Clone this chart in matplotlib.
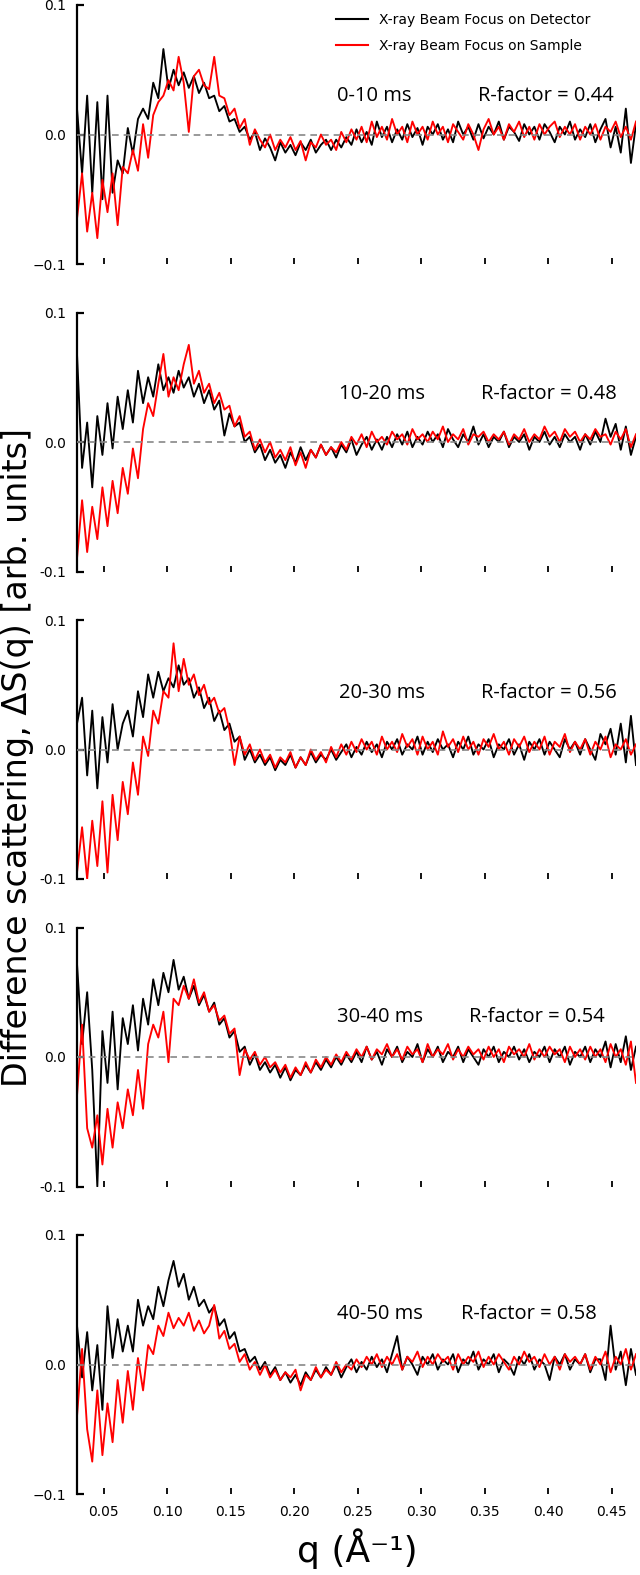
import numpy as np
import matplotlib
matplotlib.use("Agg")
import matplotlib.pyplot as plt

# ---------- data (step ~0.004 in q) ----------
Q_MIN, Q_MAX = 0.029, 0.469

windows = ["0-10 ms", "10-20 ms", "20-30 ms", "30-40 ms", "40-50 ms"]
r_factors = [0.44, 0.48, 0.56, 0.54, 0.58]
legend_labels = ["X-ray Beam Focus on Detector", "X-ray Beam Focus on Sample"]

det_0_10 = [
    0.02, -0.03, 0.03, -0.045, 0.025, -0.05, 0.03, -0.045, -0.02, -0.03,
    0.005, -0.015, 0.012, 0.02, 0.012, 0.04, 0.028, 0.066, 0.035, 0.05,
    0.038, 0.048, 0.036, 0.045, 0.032, 0.04, 0.028, 0.03, 0.018, 0.022,
    0.01, 0.012, 0.002, 0.006, -0.004, 0.002, -0.012, -0.003, -0.01, -0.02,
    -0.006, -0.014, -0.008, -0.016, -0.006, -0.012, -0.004, -0.014, -0.008, -0.004,
    -0.012, -0.004, -0.01, -0.002, -0.008, 0.004, -0.006, 0.002, -0.008, 0.01,
    -0.002, 0.006, -0.006, 0.004, -0.004, 0.008, -0.002, 0.005, -0.008, 0.006,
    0.0, 0.008, -0.004, 0.004, -0.006, 0.01, 0.0, 0.006, -0.004, 0.008,
    -0.003, 0.006, 0.0, 0.01, -0.004, 0.006, 0.002, -0.005, 0.008, 0.0,
    0.006, -0.004, 0.008, 0.002, -0.006, 0.006, 0.0, 0.01, -0.004, 0.004,
    -0.002, 0.008, -0.006, 0.004, 0.012, -0.01, 0.006, -0.014, 0.02, -0.022, 0.008,
]
smp_0_10 = [
    -0.065, -0.03, -0.075, -0.045, -0.08, -0.035, -0.06, -0.03, -0.07, -0.025,
    -0.03, -0.012, -0.028, 0.008, -0.018, 0.015, 0.025, 0.03, 0.042, 0.034,
    0.06, 0.04, 0.002, 0.045, 0.05, 0.038, 0.035, 0.06, 0.03, 0.028,
    0.015, 0.02, 0.005, 0.012, -0.008, 0.004, -0.004, -0.01, 0.0, -0.012,
    -0.004, -0.01, -0.002, -0.012, -0.005, -0.02, -0.006, -0.01, 0.0, -0.008,
    -0.004, -0.012, 0.002, -0.006, 0.004, -0.004, 0.006, -0.006, 0.01, -0.002,
    0.006, -0.004, 0.012, 0.0, 0.006, -0.006, 0.01, 0.0, 0.006, -0.004,
    0.01, 0.0, 0.006, -0.006, 0.008, 0.002, -0.004, 0.008, 0.0, -0.012,
    0.004, 0.012, 0.0, 0.006, -0.004, 0.008, 0.002, 0.01, -0.002, 0.006,
    -0.004, 0.008, 0.0, 0.006, 0.01, -0.002, 0.006, 0.0, 0.008, -0.004,
    0.006, 0.0, 0.008, -0.004, 0.006, 0.002, 0.01, -0.002, 0.006, -0.004, 0.01,
]

det_10_20 = [
    0.068, -0.02, 0.015, -0.035, 0.02, -0.01, 0.03, -0.005, 0.035, 0.01,
    0.04, 0.015, 0.055, 0.03, 0.05, 0.035, 0.06, 0.04, 0.05, 0.038,
    0.055, 0.042, 0.05, 0.035, 0.045, 0.03, 0.04, 0.025, 0.032, 0.005,
    0.022, 0.012, 0.015, 0.0, 0.004, -0.008, -0.002, -0.014, -0.006, -0.016,
    -0.01, -0.02, -0.008, -0.016, -0.004, -0.014, -0.006, -0.012, -0.002, -0.01,
    -0.004, -0.012, -0.002, -0.008, 0.002, -0.01, -0.002, 0.004, -0.006, 0.002,
    -0.006, 0.004, -0.004, 0.006, -0.002, 0.008, -0.004, 0.004, -0.002, 0.008,
    0.0, 0.006, -0.004, 0.01, 0.002, -0.004, 0.006, 0.0, 0.012, -0.002,
    0.006, -0.004, 0.004, 0.0, 0.008, -0.004, 0.004, 0.0, 0.006, -0.006,
    0.004, 0.0, 0.008, -0.002, 0.004, -0.004, 0.006, 0.0, 0.004, -0.006,
    0.006, -0.002, 0.008, 0.0, 0.018, 0.004, 0.014, -0.006, 0.012, -0.01, 0.004,
]
smp_10_20 = [
    -0.09, -0.045, -0.085, -0.05, -0.075, -0.035, -0.065, -0.03, -0.055, -0.02,
    -0.04, -0.005, -0.028, 0.01, 0.03, 0.02, 0.045, 0.068, 0.035, 0.05,
    0.04, 0.06, 0.075, 0.045, 0.055, 0.038, 0.045, 0.03, 0.038, 0.025,
    0.028, 0.012, 0.02, 0.004, 0.008, -0.006, 0.002, -0.008, 0.0, -0.012,
    -0.006, -0.014, -0.004, -0.018, -0.008, -0.02, -0.006, -0.012, -0.002, -0.01,
    -0.004, -0.008, 0.0, -0.006, 0.004, -0.002, 0.006, -0.004, 0.008, 0.0,
    0.004, -0.002, 0.008, 0.002, 0.006, -0.002, 0.01, 0.002, 0.006, 0.0,
    0.008, 0.002, 0.012, 0.0, 0.006, 0.002, 0.01, -0.002, 0.006, 0.004,
    0.008, 0.0, 0.006, 0.002, 0.008, -0.002, 0.006, 0.002, 0.01, 0.0,
    0.006, 0.002, 0.012, 0.004, 0.008, 0.0, 0.01, 0.004, 0.008, 0.0,
    0.006, 0.002, 0.01, 0.004, 0.006, -0.002, 0.008, 0.002, 0.01, -0.004, 0.006,
]

det_20_30 = [
    0.02, 0.04, -0.02, 0.03, -0.03, 0.025, -0.01, 0.035, 0.0, 0.02,
    0.03, 0.01, 0.045, 0.025, 0.058, 0.04, 0.06, 0.045, 0.055, 0.048,
    0.065, 0.05, 0.055, 0.04, 0.048, 0.032, 0.04, 0.022, 0.03, 0.015,
    0.02, 0.006, 0.01, -0.008, 0.0, -0.01, -0.004, -0.012, -0.006, -0.016,
    -0.008, -0.012, -0.004, -0.014, -0.006, -0.012, -0.002, -0.01, -0.004, -0.008,
    0.0, -0.008, -0.002, 0.004, -0.006, 0.002, -0.004, 0.006, -0.002, 0.004,
    -0.006, 0.006, 0.0, 0.008, -0.004, 0.004, 0.0, 0.01, -0.004, 0.006,
    -0.002, 0.008, 0.0, 0.004, -0.006, 0.006, 0.0, 0.01, -0.004, 0.004,
    0.0, 0.008, -0.006, 0.004, 0.0, 0.008, -0.004, 0.004, -0.008, 0.006,
    0.0, 0.008, -0.004, 0.006, 0.0, -0.006, 0.008, 0.0, 0.006, -0.004,
    0.008, 0.0, -0.008, 0.012, 0.004, 0.016, -0.004, 0.02, -0.01, 0.026, -0.012,
]
smp_20_30 = [
    -0.095, -0.06, -0.1, -0.055, -0.09, -0.04, -0.095, -0.035, -0.07, -0.025,
    -0.05, -0.01, -0.035, 0.01, -0.005, 0.03, 0.02, 0.045, 0.04, 0.082,
    0.045, 0.07, 0.05, 0.058, 0.042, 0.05, 0.035, 0.04, 0.028, 0.032,
    0.015, -0.012, 0.01, -0.004, 0.004, -0.008, 0.0, -0.01, -0.004, -0.014,
    -0.006, -0.01, -0.002, -0.014, -0.006, -0.012, 0.0, -0.008, -0.002, -0.01,
    0.002, -0.006, 0.004, -0.004, 0.006, -0.002, 0.008, 0.0, 0.006, -0.004,
    0.01, 0.0, 0.006, -0.002, 0.012, 0.002, 0.008, -0.004, 0.01, 0.0,
    0.006, -0.004, 0.014, 0.002, 0.008, -0.002, 0.01, 0.0, 0.006, -0.004,
    0.008, 0.002, 0.012, 0.0, 0.006, -0.004, 0.008, 0.002, 0.01, -0.002,
    0.006, 0.0, 0.01, -0.004, 0.006, 0.002, 0.012, -0.002, 0.006, 0.0,
    0.008, -0.004, 0.006, 0.0, 0.01, -0.006, 0.004, 0.0, 0.008, -0.004, 0.004,
]

det_30_40 = [
    0.072, 0.01, 0.05, -0.01, -0.1, 0.02, -0.02, 0.035, -0.025, 0.03,
    0.01, 0.04, 0.005, 0.045, 0.025, 0.06, 0.04, 0.065, 0.05, 0.075,
    0.052, 0.062, 0.045, 0.055, 0.04, 0.048, 0.035, 0.042, 0.025, 0.03,
    0.015, 0.02, 0.004, 0.008, -0.006, 0.002, -0.01, -0.004, -0.012, -0.006,
    -0.016, -0.008, -0.018, -0.01, -0.014, -0.006, -0.012, -0.004, -0.01, -0.002,
    -0.008, 0.0, -0.006, 0.002, -0.004, 0.004, -0.004, 0.008, -0.002, 0.004,
    -0.006, 0.006, 0.0, 0.008, -0.004, 0.004, 0.0, 0.01, -0.004, 0.006,
    0.0, 0.008, -0.004, 0.004, 0.0, 0.008, -0.004, 0.006, 0.0, -0.006,
    0.006, 0.0, 0.008, -0.004, 0.004, 0.0, 0.008, -0.002, 0.006, -0.004,
    0.004, 0.0, 0.008, -0.004, 0.006, 0.0, 0.008, -0.006, 0.004, 0.0,
    0.008, -0.004, 0.006, 0.0, 0.012, -0.008, 0.01, -0.004, 0.016, -0.01, 0.008,
]
smp_30_40 = [
    -0.03, 0.025, -0.055, -0.07, -0.045, -0.083, -0.04, -0.07, -0.035, -0.055,
    -0.025, -0.045, -0.01, -0.04, 0.01, 0.025, 0.015, 0.035, -0.004, 0.045,
    0.04, 0.055, 0.045, 0.06, 0.042, 0.05, 0.035, 0.04, 0.028, 0.032,
    0.018, 0.022, -0.014, 0.006, -0.002, 0.004, -0.006, 0.0, -0.008, -0.004,
    -0.012, -0.006, -0.016, -0.008, -0.014, -0.004, -0.012, -0.002, -0.008, 0.0,
    -0.006, 0.002, -0.004, 0.004, -0.002, 0.006, 0.0, 0.008, -0.002, 0.006,
    0.002, 0.01, 0.0, 0.006, -0.002, 0.008, 0.002, 0.006, -0.004, 0.01,
    0.0, 0.006, 0.002, 0.01, -0.002, 0.006, 0.0, 0.008, 0.002, 0.006,
    -0.002, 0.008, 0.0, 0.006, -0.004, 0.008, 0.002, 0.006, 0.0, 0.01,
    -0.002, 0.006, 0.0, 0.008, 0.002, 0.006, -0.004, 0.008, 0.0, 0.006,
    -0.002, 0.008, 0.0, 0.006, -0.004, 0.01, 0.0, 0.006, -0.006, 0.012, -0.02,
]

det_40_50 = [
    0.03, -0.01, 0.025, -0.02, 0.015, -0.035, 0.045, 0.005, 0.035, 0.01,
    0.03, 0.01, 0.05, 0.03, 0.045, 0.035, 0.06, 0.045, 0.065, 0.08,
    0.06, 0.07, 0.05, 0.06, 0.045, 0.05, 0.04, 0.045, 0.03, 0.035,
    0.02, 0.025, 0.01, 0.012, 0.002, 0.006, -0.004, 0.002, -0.008, -0.002,
    -0.012, -0.006, -0.014, -0.008, -0.016, -0.006, -0.012, -0.004, -0.01, -0.002,
    -0.008, 0.0, -0.01, -0.002, 0.004, -0.006, 0.002, -0.004, 0.006, -0.002,
    0.004, -0.006, 0.008, 0.022, -0.004, 0.006, 0.0, -0.008, 0.006, 0.0,
    0.008, -0.004, 0.004, 0.0, 0.008, -0.006, 0.004, 0.0, 0.01, -0.004,
    0.004, 0.0, 0.008, -0.006, 0.004, 0.0, -0.008, 0.006, 0.0, 0.008,
    -0.004, 0.004, 0.0, -0.012, 0.006, 0.0, 0.008, -0.004, 0.004, 0.0,
    0.008, -0.006, 0.004, 0.004, -0.012, 0.03, -0.004, 0.01, -0.016, 0.012, -0.008,
]
smp_40_50 = [
    -0.04, 0.012, -0.05, -0.075, -0.02, -0.07, -0.03, -0.06, -0.012, -0.045,
    -0.005, -0.035, 0.005, -0.02, 0.015, 0.008, 0.03, 0.022, 0.04, 0.028,
    0.036, 0.03, 0.04, 0.026, 0.034, 0.024, 0.03, 0.046, 0.02, 0.026,
    0.012, 0.016, 0.002, 0.008, -0.004, 0.002, -0.008, 0.0, -0.01, -0.004,
    -0.012, -0.006, -0.01, -0.004, -0.02, -0.008, -0.012, -0.002, -0.01, -0.004,
    -0.008, 0.002, -0.006, 0.0, -0.004, 0.004, -0.002, 0.006, 0.0, 0.008,
    -0.002, 0.006, 0.0, 0.008, -0.004, 0.006, 0.002, 0.01, -0.002, 0.006,
    0.0, 0.008, 0.002, 0.006, -0.004, 0.008, 0.0, 0.006, 0.002, 0.01,
    -0.002, 0.006, 0.0, 0.008, 0.002, -0.004, 0.006, 0.0, 0.01, 0.002,
    0.006, -0.002, 0.008, 0.0, 0.006, -0.004, 0.008, 0.002, 0.006, 0.0,
    0.008, -0.004, 0.006, 0.0, 0.01, -0.006, 0.006, 0.0, 0.012, -0.004, 0.008,
]

detector = [det_0_10, det_10_20, det_20_30, det_30_40, det_40_50]
sample = [smp_0_10, smp_10_20, smp_20_30, smp_30_40, smp_40_50]

# text placement (q, dS) per panel
label_y = [0.0295, 0.037, 0.0436, 0.031, 0.039]
label_x = [0.234, 0.235, 0.235, 0.234, 0.234]
rfac_x = [0.345, 0.347, 0.347, 0.3375, 0.3316]
minus_style = ["\u22120.1", "-0.1", "-0.1", "-0.1", "\u22120.1"]

# ---------- plot ----------
W, H = 640, 1575
fig = plt.figure(figsize=(W / 100, H / 100), dpi=100)

left = 77 / W
width = (636 - 77) / W
ax_h = 259 / H
step = 307.5

for i in range(5):
    top_px = 5 + i * step
    bottom = 1 - (top_px + 259) / H
    ax = fig.add_axes([left, bottom, width, ax_h])

    y_det = np.array(detector[i])
    y_smp = np.array(sample[i])
    q = np.linspace(Q_MIN, Q_MAX, len(y_det))

    ax.plot(q, y_det, color="black", lw=1.35, label=legend_labels[0], zorder=2)
    ax.plot(q, y_smp, color="#ff0000", lw=1.35, label=legend_labels[1], zorder=2.5)
    ax.axhline(0, color="#888888", lw=1.2, ls=(0, (4, 3)), zorder=3)

    ax.set_xlim(Q_MIN, Q_MAX)
    ax.set_ylim(-0.1, 0.1)

    for s in ["top", "right", "bottom"]:
        ax.spines[s].set_visible(False)
    ax.spines["left"].set_linewidth(1.6)

    ax.set_yticks([-0.1, 0.0, 0.1])
    ax.set_yticklabels([minus_style[i], "0.0", "0.1"])
    ax.tick_params(axis="y", direction="in", length=5, width=1.6,
                   labelsize=10, pad=8)
    ax.set_xticks([0.05, 0.10, 0.15, 0.20, 0.25, 0.30, 0.35, 0.40, 0.45])
    ax.tick_params(axis="x", direction="in", length=4.5, width=1.3,
                   labelsize=10, pad=8)
    if i < 4:
        ax.tick_params(axis="x", labelbottom=False)
    else:
        ax.set_xticklabels(["0.05", "0.10", "0.15", "0.20", "0.25",
                            "0.30", "0.35", "0.40", "0.45"])

    ax.text(label_x[i], label_y[i], windows[i], fontsize=14.5,
            family="Open Sans", ha="left", va="center")
    ax.text(rfac_x[i], label_y[i], f"R-factor = {r_factors[i]:.2f}",
            fontsize=14.5, family="Open Sans", ha="left", va="center")

    if i == 0:
        leg = ax.legend(loc="upper left", bbox_to_anchor=(0.4636, 0.97),
                        frameon=False, fontsize=10, handlelength=2.3,
                        handletextpad=0.8, labelspacing=0.85, borderpad=0,
                        borderaxespad=0)
        for line in leg.get_lines():
            line.set_linewidth(1.5)

fig.text(0.028, 0.519, "Difference scattering, \u0394S(q) [arb. units]",
         rotation=90, ha="center", va="center", fontsize=24)
fig.text(357 / W, 1 - 1549 / H, "q (\u00c5\u207b\u00b9)",
         ha="center", va="center", fontsize=26)

fig.savefig("out.png", dpi=100)
